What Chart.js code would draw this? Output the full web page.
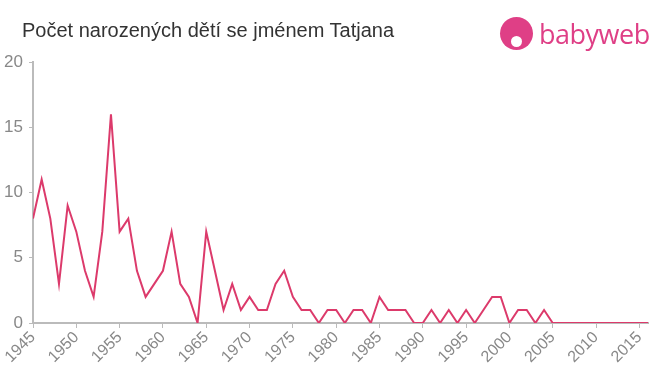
<!DOCTYPE html>
<html>
<head>
<meta charset="utf-8">
<script src="https://cdn.jsdelivr.net/npm/chart.js@4"></script>
<style>
  body { margin: 0; background: #fff; font-family: "Liberation Sans", Arial, sans-serif; }
  #wrap { position: relative; width: 660px; height: 375px; }
  #title { position: absolute; left: 22px; top: 19px; font-size: 20px; color: #333; }
  #logo { position: absolute; left: 500px; top: 16px; height: 34px; display: flex; align-items: center; }
  #logo .dot { width: 33px; height: 33px; border-radius: 50%; background: #df3f86; position: relative; }
  #logo .dot::after { content: ""; position: absolute; left: 11px; top: 19px; width: 11px; height: 11px; border-radius: 50%; background: #fff; }
  #logo .txt { margin-left: 6px; font-family: "Open Sans", sans-serif; font-size: 27px; color: #df3f86; letter-spacing: -0.5px; }
</style>
</head>
<body>
<div id="wrap">
  <canvas id="chart" width="660" height="375"></canvas>
  <div id="title">Počet narozených dětí se jménem Tatjana</div>
  <div id="logo"><div class="dot"></div><div class="txt">babyweb</div></div>
</div>
<script>
// years shown on the chart
var years = [];
for (var y = 1945; y <= 2016; y++) years.push(y);

// births per year
var births = [8, 11, 8, 3, 9, 7, 4, 2, 7, 16,
              7, 8, 4, 2, 3, 4, 7, 3, 2, 0,
              7, 4, 1, 3, 1, 2, 1, 1, 3, 4,
              2, 1, 1, 0, 1, 1, 0, 1, 1, 0,
              2, 1, 1, 1, 0, 0, 1, 0, 1, 0,
              1, 0, 1, 2, 2, 0, 1, 1, 0, 1,
              0, 0, 0, 0, 0, 0, 0, 0, 0, 0,
              0, 0];

var yTicks = [0, 5, 10, 15, 20];

var points = years.map(function (yr, i) { return { x: yr, y: births[i] }; });

var myChart = new Chart(document.getElementById('chart'), {
  type: 'line',
  data: {
    datasets: [{
      data: points,
      borderColor: '#dc3a6b',
      borderWidth: 2,
      pointRadius: 0,
      tension: 0,
      fill: false
    }]
  },
  options: {
    responsive: false,
    animation: false,
    layout: { padding: { top: 62, right: 12, left: 0, bottom: 0 } },
    plugins: { legend: { display: false }, tooltip: { enabled: false } },
    scales: {
      x: {
        type: 'linear',
        min: 1945,
        max: 2016,
        afterBuildTicks: function (scale) {
          scale.ticks = years.filter(function (v) { return v % 5 === 0; }).map(function (v) { return { value: v }; });
        },
        afterFit: function (scale) { scale.height = 52; },
        border: { color: '#bbb', width: 2 },
        grid: { drawOnChartArea: false, color: '#bbb', tickLength: 5 },
        ticks: {
          autoSkip: false,
          maxRotation: 45,
          minRotation: 45,
          color: '#888',
          font: { family: '"Liberation Sans", Arial', size: 16 },
          padding: 0,
          callback: function (v) { return String(v); }
        }
      },
      y: {
        min: 0,
        max: 20,
        afterBuildTicks: function (scale) {
          scale.ticks = yTicks.map(function (v) { return { value: v }; });
        },
        afterFit: function (scale) { scale.width = 33; },
        border: { color: '#bbb', width: 2 },
        grid: { drawOnChartArea: false, color: '#bbb', tickLength: 4 },
        ticks: {
          color: '#888',
          font: { family: '"Liberation Sans", Arial', size: 17 },
          padding: 6
        }
      }
    }
  }
});
</script>
</body>
</html>
